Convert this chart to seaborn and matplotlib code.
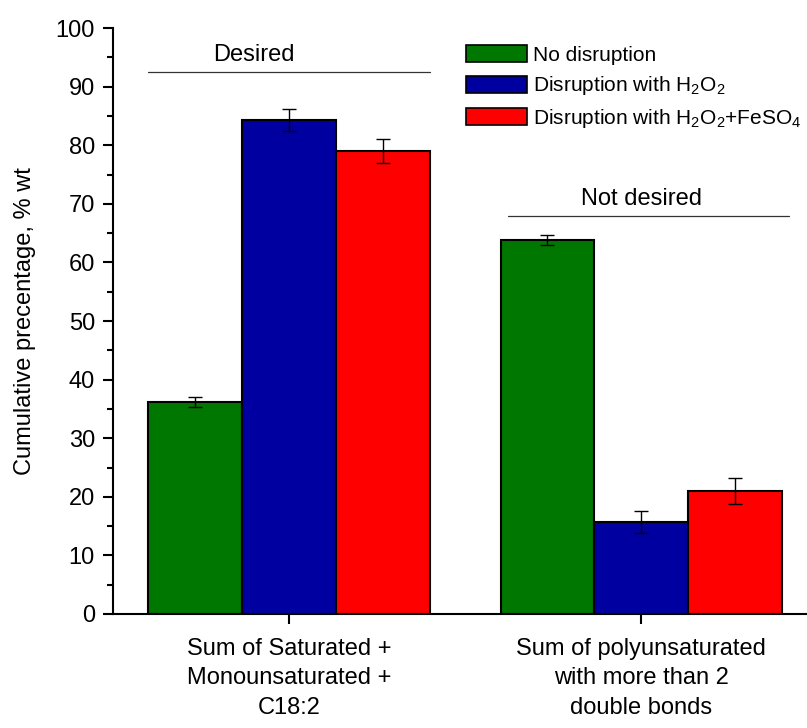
import numpy as np
import pandas as pd
import seaborn as sns
import matplotlib
matplotlib.use("Agg")
from matplotlib import pyplot as plt
from matplotlib.ticker import MultipleLocator

categories = ["Sum of Saturated +\nMonounsaturated +\nC18:2",
              "Sum of polyunsaturated\nwith more than 2\ndouble bonds"]
conditions = ["No disruption",
              r"Disruption with H$_2$O$_2$",
              r"Disruption with H$_2$O$_2$+FeSO$_4$"]
no_disruption = [36.2, 63.8]
h2o2 = [84.3, 15.7]
h2o2_feso4 = [79.0, 21.0]
err_no = [0.9, 0.9]
err_h2o2 = [1.8, 1.9]
err_fe = [2.1, 2.2]
colors = ["#007700", "#0000a0", "#ff0000"]

sns.set_style("ticks")
plt.rcParams["font.family"] = ["Liberation Sans", "DejaVu Sans"]
plt.rcParams["mathtext.fontset"] = "custom"
plt.rcParams["mathtext.rm"] = "Liberation Sans"
plt.rcParams["mathtext.it"] = "Liberation Sans:italic"
plt.rcParams["text.color"] = "black"
plt.rcParams["axes.labelcolor"] = "black"
plt.rcParams["xtick.color"] = "black"
plt.rcParams["ytick.color"] = "black"
plt.rcParams["axes.edgecolor"] = "black"

df = pd.DataFrame({
    "category": categories * 3,
    "condition": [c for c in conditions for _ in categories],
    "value": no_disruption + h2o2 + h2o2_feso4,
})
errs = [err_no, err_h2o2, err_fe]

fig = plt.figure(figsize=(8.07, 7.28), dpi=100)
ax = fig.add_axes([0.140, 0.1566, 0.86, 0.8049])
sns.barplot(data=df, x="category", y="value", hue="condition",
            hue_order=conditions, palette=colors, saturation=1, width=0.8,
            edgecolor="black", linewidth=1.5, errorbar=None, ax=ax)

for cont, e in zip(ax.containers, errs):
    for bar, ee in zip(cont, e):
        xc = bar.get_x() + bar.get_width() / 2
        ax.errorbar(xc, bar.get_height(), yerr=ee, color="black",
                    capsize=5, elinewidth=1, capthick=1)

ax.set_xlim(-0.5, 1.47)
ax.set_ylim(0, 100)
ax.yaxis.set_major_locator(MultipleLocator(10))
ax.yaxis.set_minor_locator(MultipleLocator(5))
ax.tick_params(axis="both", which="major", length=7, width=1.5, labelsize=17)
ax.tick_params(axis="y", which="minor", length=4, width=1.5)
ax.tick_params(axis="y", pad=6)
ax.tick_params(axis="x", pad=10)
for lbl in ax.get_xticklabels():
    lbl.set_linespacing(1.45)
for s in ["top", "right"]:
    ax.spines[s].set_visible(False)
ax.spines["left"].set_linewidth(1.5)
ax.spines["bottom"].set_linewidth(1.5)
ax.set_xlabel("")
ax.set_ylabel("Cumulative precentage, % wt", fontsize=17, labelpad=14)

ax.plot([-0.4, 0.4], [92.5, 92.5], color="#333333", lw=0.9)
ax.text(-0.1, 93.5, "Desired", ha="center", va="bottom", fontsize=17)
ax.plot([0.62, 1.42], [67.9, 67.9], color="#333333", lw=0.9)
ax.text(1.0, 68.9, "Not desired", ha="center", va="bottom", fontsize=17)

leg = ax.legend(loc="upper left", bbox_to_anchor=(0.497, 0.985), frameon=False,
                fontsize=15, handlelength=2.9, handleheight=0.9,
                labelspacing=0.45, handletextpad=0.3, borderaxespad=0)
for h in leg.legend_handles:
    h.set_edgecolor("black")
    h.set_linewidth(1.2)

fig.savefig("out.png", dpi=100)
